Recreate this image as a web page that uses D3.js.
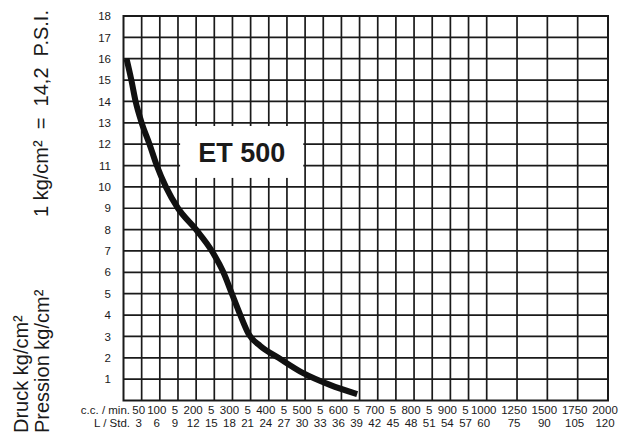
<!DOCTYPE html>
<html>
<head>
<meta charset="utf-8">
<script src="https://cdn.jsdelivr.net/npm/d3@7"></script>
<style>
  html, body { margin: 0; padding: 0; background: #fff; }
  svg { display: block; }
  text { font-family: "Liberation Sans", Arial, Helvetica, sans-serif; fill: #1a1a1a; }
</style>
</head>
<body>
<svg id="chart" width="620" height="435"></svg>
<script>
// Pressure / flow curve of the ET 500 pump

// Flow in L/Std and the pressure (kg/cm²)
const flowLph  = [0.5, 1.3, 2.0, 3.0, 4.3, 5.5, 7.0, 9.0, 12.0, 14.6, 16.5, 17.9, 19.3, 20.7, 22.6, 25.6, 29.7, 34.1, 38.6];
const pressure = [16, 15, 14, 13, 12, 11, 10, 9, 8, 7, 6, 5, 4, 3.1, 2.55, 2.0, 1.28, 0.73, 0.3];

// Grid / tick positions on the flow axis (L/Std)
const flowTicks = [3, 6, 9, 12, 15, 18, 21, 24, 27, 30, 33, 36, 39, 42, 45, 48, 51, 54, 57, 60, 75, 90, 105, 120];
// Matching c.c./min labels
const ccLabels  = ["50", "100", "5", "200", "5", "300", "5", "400", "5", "500", "5", "600", "5",
                   "700", "5", "800", "5", "900", "5", "1000", "1250", "1500", "1750", "2000"];
// Pressure ticks
const pressureTicks = d3.range(1, 19);

const modelName = "ET 500";

const svg = d3.select("#chart");
const plotL = 123.5, plotR = 608, plotT = 16, plotB = 400.5;

// Flow axis: 3 L/Std per narrow column up to 60, then 15 per wide column
const x = d3.scaleLinear().domain([0, 60, 120]).range([plotL, 486.7, plotR]);
const y = d3.scaleLinear().domain([0, 18]).range([plotB, plotT]);

const ink = "#1a1a1a";

// Grid
const grid = svg.append("g");
grid.selectAll("line.h")
  .data(pressureTicks.filter(d => d < 18))
  .join("line")
  .attr("class", "h")
  .attr("x1", plotL).attr("x2", plotR)
  .attr("y1", d => y(d)).attr("y2", d => y(d))
  .attr("stroke", ink).attr("stroke-width", 1.7);
grid.selectAll("line.v")
  .data(flowTicks.filter(d => d < 120))
  .join("line")
  .attr("class", "v")
  .attr("y1", plotT).attr("y2", plotB)
  .attr("x1", d => x(d)).attr("x2", d => x(d))
  .attr("stroke", ink).attr("stroke-width", 1.7);
grid.append("rect")
  .attr("x", plotL).attr("y", plotT)
  .attr("width", plotR - plotL).attr("height", plotB - plotT)
  .attr("fill", "none").attr("stroke", ink).attr("stroke-width", 2);

// Model label on a white patch
const lab = svg.append("g");
lab.append("rect")
  .attr("x", x(9.35)).attr("y", y(12.85))
  .attr("width", x(29.7) - x(9.35)).attr("height", y(10.42) - y(12.85))
  .attr("fill", "#fff");
lab.append("text")
  .attr("x", (x(9.35) + x(29.7)) / 2).attr("y", 161.5)
  .attr("text-anchor", "middle")
  .attr("font-size", 27).attr("font-weight", "bold")
  .text(modelName);

// Curve
const pts = flowLph.map((f, i) => [f, pressure[i]]);
svg.append("path")
  .datum(pts)
  .attr("fill", "none")
  .attr("stroke", "#111")
  .attr("stroke-width", 6)
  .attr("stroke-linejoin", "round")
  .attr("d", d3.line().x(d => x(d[0])).y(d => y(d[1])).curve(d3.curveMonotoneX));

// Pressure tick labels
svg.append("g").selectAll("text")
  .data(pressureTicks)
  .join("text")
  .attr("x", 111).attr("y", d => y(d))
  .attr("dy", "0.36em")
  .attr("text-anchor", "end")
  .attr("font-size", 11.5)
  .text(d => d);

// Flow labels
const xl = svg.append("g").attr("font-size", 11.5);
xl.append("text").attr("x", 130).attr("y", 414).attr("text-anchor", "end").text("c.c. / min.");
xl.append("text").attr("x", 130).attr("y", 427).attr("text-anchor", "end").text("L / Std.");
xl.selectAll("text.cc")
  .data(flowTicks)
  .join("text")
  .attr("class", "cc")
  .attr("x", d => x(d) - 3).attr("y", 414)
  .attr("text-anchor", "middle")
  .text((d, i) => ccLabels[i]);
xl.selectAll("text.lph")
  .data(flowTicks)
  .join("text")
  .attr("class", "lph")
  .attr("x", d => x(d) - 3).attr("y", 427)
  .attr("text-anchor", "middle")
  .text(d => d);

// Rotated unit captions
const cap = svg.append("g").attr("font-size", 20);
cap.append("text")
  .attr("transform", "translate(48,217) rotate(-90)")
  .text("1 kg/cm²\u00A0\u00A0=\u00A0\u00A014,2\u00A0\u00A0P.S.I.");
cap.append("text")
  .attr("transform", "translate(28,433) rotate(-90)")
  .text("Druck kg/cm²");
cap.append("text")
  .attr("transform", "translate(49,433) rotate(-90)")
  .text("Pression kg/cm²");
</script>
</body>
</html>
